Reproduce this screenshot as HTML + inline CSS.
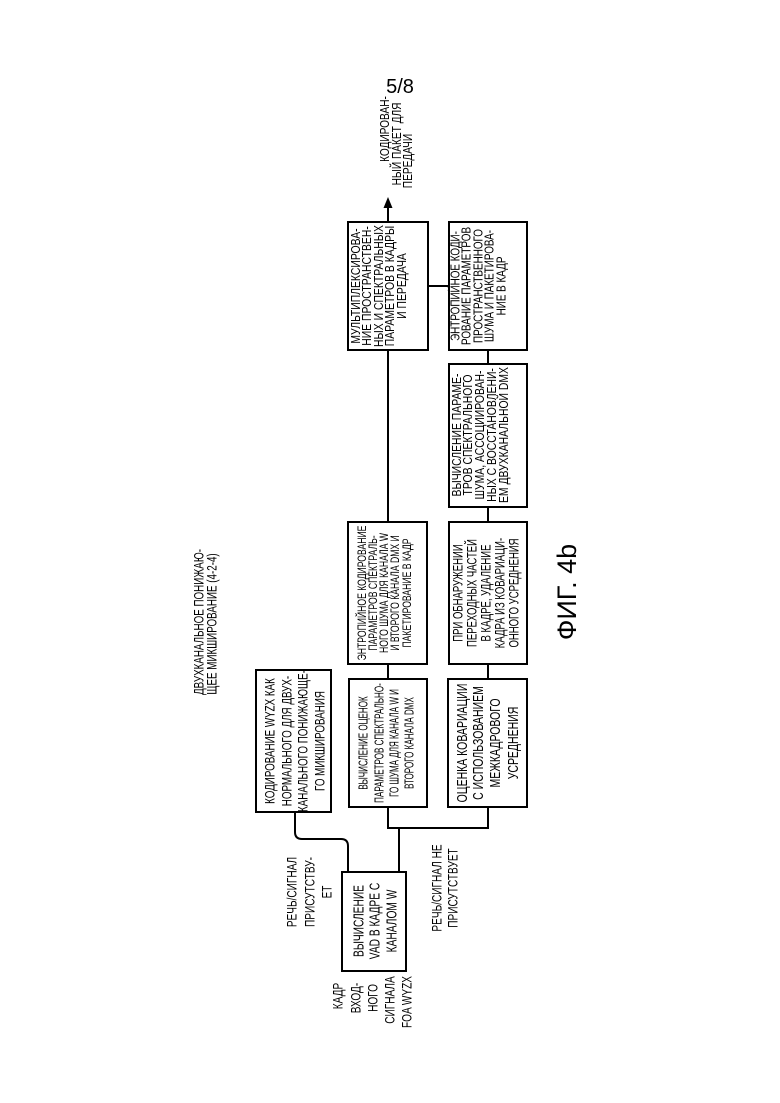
<!DOCTYPE html>
<html><head><meta charset="utf-8"><style>
html,body{margin:0;padding:0;background:#fff}
svg{display:block}
text{font-family:"Liberation Sans",sans-serif;fill:#000}
</style></head><body>
<svg width="780" height="1103" viewBox="0 0 780 1103" xmlns="http://www.w3.org/2000/svg">
<g fill="none" stroke="#000" stroke-width="2">
<rect x="342" y="872" width="64" height="99"/>
<rect x="256" y="670" width="75" height="142"/>
<rect x="349" y="679" width="78" height="128"/>
<rect x="448" y="679" width="79" height="128"/>
<rect x="348" y="522" width="79" height="142"/>
<rect x="449" y="522" width="78" height="142"/>
<rect x="449" y="364" width="78" height="143"/>
<rect x="449" y="222" width="78" height="128"/>
<rect x="348" y="222" width="80" height="128"/>
<path d="M295 812 V832 Q295 839 302 839 H341 Q348 839 348 846 V872"/>
<path d="M399 872 V828 M388 807 V828 H488 V807"/>
<path d="M388 664 V679 M488 664 V679 M388 350 V522 M488 507 V522 M488 350 V364 M428 286 H449 M388 222 V206"/>
</g>
<path d="M388 197 L383.5 208 L392.5 208 Z" fill="#000"/>
<text x="400" y="93" font-size="20" text-anchor="middle">5/8</text>
<g text-anchor="middle" dominant-baseline="central">
<g font-size="14">
<text transform="translate(199,622) rotate(-90) scale(0.7,1)">ДВУХКАНАЛЬНОЕ ПОНИЖАЮ-</text>
<text transform="translate(212,624) rotate(-90) scale(0.7,1)">ЩЕЕ МИКШИРОВАНИЕ (4-2-4)</text>
</g>
<g font-size="15">
<text transform="translate(358,921) rotate(-90) scale(0.68,1)">ВЫЧИСЛЕНИЕ</text>
<text transform="translate(374,921) rotate(-90) scale(0.68,1)">VAD В КАДРЕ С</text>
<text transform="translate(391,921) rotate(-90) scale(0.68,1)">КАНАЛОМ W</text>
</g>
<g font-size="14">
<text transform="translate(270,741) rotate(-90) scale(0.7,1)">КОДИРОВАНИЕ WYZX КАК</text>
<text transform="translate(287,741) rotate(-90) scale(0.7,1)">НОРМАЛЬНОГО ДЛЯ ДВУХ-</text>
<text transform="translate(303,741) rotate(-90) scale(0.7,1)">КАНАЛЬНОГО ПОНИЖАЮЩЕ-</text>
<text transform="translate(320,741) rotate(-90) scale(0.7,1)">ГО МИКШИРОВАНИЯ</text>
</g>
<g font-size="13">
<text transform="translate(364,743) rotate(-90) scale(0.62,1)">ВЫЧИСЛЕНИЕ ОЦЕНОК</text>
<text transform="translate(380,743) rotate(-90) scale(0.62,1)">ПАРАМЕТРОВ СПЕКТРАЛЬНО-</text>
<text transform="translate(395,743) rotate(-90) scale(0.62,1)">ГО ШУМА ДЛЯ КАНАЛА W И</text>
<text transform="translate(410,743) rotate(-90) scale(0.62,1)">ВТОРОГО КАНАЛА DMX</text>
</g>
<g font-size="15">
<text transform="translate(462,743) rotate(-90) scale(0.7,1)">ОЦЕНКА КОВАРИАЦИИ</text>
<text transform="translate(478,743) rotate(-90) scale(0.7,1)">С ИСПОЛЬЗОВАНИЕМ</text>
<text transform="translate(495,743) rotate(-90) scale(0.7,1)">МЕЖКАДРОВОГО</text>
<text transform="translate(513,743) rotate(-90) scale(0.7,1)">УСРЕДНЕНИЯ</text>
</g>
<g font-size="12">
<text transform="translate(363,593) rotate(-90) scale(0.72,1)">ЭНТРОПИЙНОЕ КОДИРОВАНИЕ</text>
<text transform="translate(374,593) rotate(-90) scale(0.72,1)">ПАРАМЕТРОВ СПЕКТРАЛЬ-</text>
<text transform="translate(385,593) rotate(-90) scale(0.72,1)">НОГО ШУМА ДЛЯ КАНАЛА W</text>
<text transform="translate(396,593) rotate(-90) scale(0.72,1)">И ВТОРОГО КАНАЛА DMX И</text>
<text transform="translate(408,593) rotate(-90) scale(0.72,1)">ПАКЕТИРОВАНИЕ В КАДР</text>
</g>
<g font-size="14">
<text transform="translate(458,593) rotate(-90) scale(0.68,1)">ПРИ ОБНАРУЖЕНИИ</text>
<text transform="translate(472,593) rotate(-90) scale(0.68,1)">ПЕРЕХОДНЫХ ЧАСТЕЙ</text>
<text transform="translate(486,593) rotate(-90) scale(0.68,1)">В КАДРЕ, УДАЛЕНИЕ</text>
<text transform="translate(500,593) rotate(-90) scale(0.68,1)">КАДРА ИЗ КОВАРИАЦИ-</text>
<text transform="translate(514,593) rotate(-90) scale(0.68,1)">ОННОГО УСРЕДНЕНИЯ</text>
</g>
<g font-size="13">
<text transform="translate(457,435) rotate(-90) scale(0.8,1)">ВЫЧИСЛЕНИЕ ПАРАМЕ-</text>
<text transform="translate(468,435) rotate(-90) scale(0.8,1)">ТРОВ СПЕКТРАЛЬНОГО</text>
<text transform="translate(480,435) rotate(-90) scale(0.8,1)">ШУМА, АССОЦИИРОВАН-</text>
<text transform="translate(492,435) rotate(-90) scale(0.8,1)">НЫХ С ВОССТАНОВЛЕНИ-</text>
<text transform="translate(504,435) rotate(-90) scale(0.8,1)">ЕМ ДВУХКАНАЛЬНОЙ DMX</text>
</g>
<g font-size="13">
<text transform="translate(456,286) rotate(-90) scale(0.76,1)">ЭНТРОПИЙНОЕ КОДИ-</text>
<text transform="translate(467,286) rotate(-90) scale(0.76,1)">РОВАНИЕ ПАРАМЕТРОВ</text>
<text transform="translate(479,286) rotate(-90) scale(0.76,1)">ПРОСТРАНСТВЕННОГО</text>
<text transform="translate(490,286) rotate(-90) scale(0.76,1)">ШУМА И ПАКЕТИРОВА-</text>
<text transform="translate(502,286) rotate(-90) scale(0.76,1)">НИЕ В КАДР</text>
</g>
<g font-size="13">
<text transform="translate(356,286) rotate(-90) scale(0.8,1)">МУЛЬТИПЛЕКСИРОВА-</text>
<text transform="translate(367,286) rotate(-90) scale(0.8,1)">НИЕ ПРОСТРАНСТВЕН-</text>
<text transform="translate(379,286) rotate(-90) scale(0.8,1)">НЫХ И СПЕКТРАЛЬНЫХ</text>
<text transform="translate(390,286) rotate(-90) scale(0.8,1)">ПАРАМЕТРОВ В КАДРЫ</text>
<text transform="translate(402,286) rotate(-90) scale(0.8,1)">И ПЕРЕДАЧА</text>
</g>
<g font-size="13">
<text transform="translate(385,129) rotate(-90) scale(0.78,1)">КОДИРОВАН-</text>
<text transform="translate(397,144) rotate(-90) scale(0.78,1)">НЫЙ ПАКЕТ ДЛЯ</text>
<text transform="translate(408,161) rotate(-90) scale(0.78,1)">ПЕРЕДАЧИ</text>
</g>
<g font-size="14">
<text transform="translate(292,892) rotate(-90) scale(0.72,1)">РЕЧЬ/СИГНАЛ</text>
<text transform="translate(310,892) rotate(-90) scale(0.72,1)">ПРИСУТСТВУ-</text>
<text transform="translate(327,892) rotate(-90) scale(0.72,1)">ЕТ</text>
<text transform="translate(437,888) rotate(-90) scale(0.72,1)">РЕЧЬ/СИГНАЛ НЕ</text>
<text transform="translate(453,888) rotate(-90) scale(0.72,1)">ПРИСУТСТВУЕТ</text>
<text transform="translate(338,996) rotate(-90) scale(0.72,1)">КАДР</text>
<text transform="translate(356,998) rotate(-90) scale(0.72,1)">ВХОД-</text>
<text transform="translate(373,998) rotate(-90) scale(0.72,1)">НОГО</text>
<text transform="translate(390,1000) rotate(-90) scale(0.72,1)">СИГНАЛА</text>
<text transform="translate(407,1002) rotate(-90) scale(0.72,1)">FOA WYZX</text>
</g>
<text font-size="27" transform="translate(567,592) rotate(-90)">ФИГ. 4b</text>
</g>
</svg>
</body></html>
